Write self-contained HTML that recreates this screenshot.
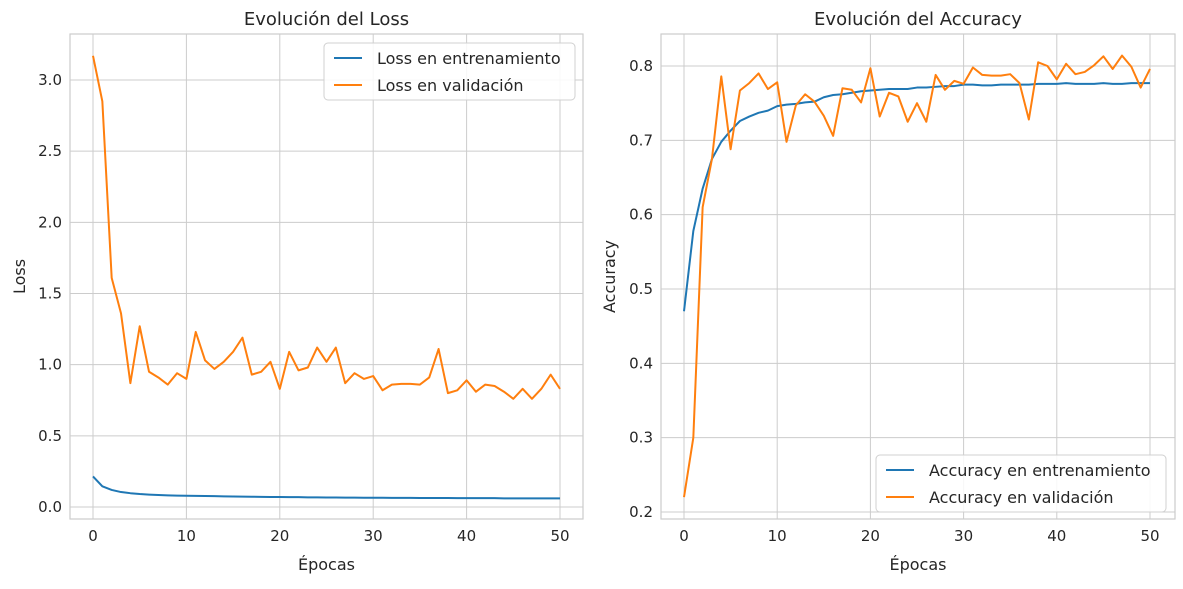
<!DOCTYPE html>
<html><head><meta charset="utf-8"><style>
body{margin:0;background:#fff;}
svg text{font-family:"DejaVu Sans","Liberation Sans",sans-serif;fill:#262626;}
</style></head><body>
<svg id="chart" width="1183" height="584" xmlns="http://www.w3.org/2000/svg"></svg>
<script>
const epochs = Array.from({length:51},(_,i)=>i);
const lossTrain = [0.215,0.145,0.12,0.105,0.097,0.091,0.087,0.084,0.082,0.080,0.079,0.078,0.077,0.076,0.075,0.074,0.073,0.072,0.071,0.070,0.070,0.069,0.069,0.068,0.068,0.067,0.067,0.066,0.066,0.065,0.065,0.065,0.064,0.064,0.064,0.063,0.063,0.063,0.063,0.062,0.062,0.062,0.062,0.062,0.061,0.061,0.061,0.061,0.061,0.061,0.061];
const lossVal = [3.17,2.85,1.61,1.36,0.87,1.27,0.95,0.91,0.86,0.94,0.90,1.23,1.03,0.97,1.02,1.09,1.19,0.93,0.95,1.02,0.83,1.09,0.96,0.98,1.12,1.02,1.12,0.87,0.94,0.90,0.92,0.82,0.86,0.865,0.865,0.86,0.91,1.11,0.80,0.82,0.89,0.81,0.86,0.85,0.81,0.76,0.83,0.76,0.83,0.93,0.83];
const accTrain = [0.47,0.578,0.635,0.675,0.698,0.713,0.726,0.732,0.737,0.740,0.746,0.748,0.749,0.751,0.752,0.758,0.761,0.762,0.764,0.766,0.767,0.768,0.769,0.769,0.769,0.771,0.771,0.772,0.773,0.773,0.775,0.775,0.774,0.774,0.775,0.775,0.775,0.775,0.776,0.776,0.776,0.777,0.776,0.776,0.776,0.777,0.776,0.776,0.777,0.777,0.777];
const accVal = [0.22,0.30,0.61,0.675,0.786,0.688,0.767,0.777,0.790,0.769,0.778,0.698,0.747,0.762,0.752,0.733,0.706,0.770,0.768,0.751,0.797,0.732,0.764,0.759,0.725,0.750,0.725,0.788,0.768,0.780,0.776,0.798,0.788,0.787,0.787,0.789,0.777,0.728,0.805,0.800,0.782,0.803,0.789,0.792,0.801,0.813,0.796,0.814,0.799,0.771,0.796];
const xTicks = [0,10,20,30,40,50];
const lossTicks = [0.0,0.5,1.0,1.5,2.0,2.5,3.0];
const accTicks = [0.2,0.3,0.4,0.5,0.6,0.7,0.8];

const NS="http://www.w3.org/2000/svg";
const svg=document.getElementById('chart');
function el(tag,attrs,parent,text){const e=document.createElementNS(NS,tag);for(const k in attrs)e.setAttribute(k,attrs[k]);if(text!==undefined)e.textContent=text;(parent||svg).appendChild(e);return e;}

function panel(cfg){
  const g=el('g',{});
  
  
  const {x0,x1,y0,y1}=cfg.box;
  const xs=v=>cfg.px0+(v-0)*(cfg.px50-cfg.px0)/50;
  const ys=v=>cfg.py0+(v-cfg.v0)*(cfg.py1-cfg.py0)/(cfg.v1-cfg.v0);
  xTicks.forEach(t=>{
    const l=el('line',{x1:xs(t),x2:xs(t),y1:y0,y2:y1,stroke:'#cccccc','stroke-width':1},g);
    
    
    const tx=el('text',{x:xs(t),y:y1+22,'text-anchor':'middle','font-size':15},g,String(t));
    
    
  });
  cfg.ticks.forEach(t=>{
    const l=el('line',{x1:x0,x2:x1,y1:ys(t),y2:ys(t),stroke:'#cccccc','stroke-width':1},g);
    
    
    const tx=el('text',{x:x0-8,y:ys(t)+5,'text-anchor':'end','font-size':15},g,t.toFixed(1));
    
    
  });
  const fr=el('rect',{x:x0,y:y0,width:x1-x0,height:y1-y0,fill:'none',stroke:'#cccccc','stroke-width':1.2},g);
  
  
  cfg.series.forEach(s=>{
    const p=el('polyline',{points:epochs.map((e,i)=>xs(e)+','+ys(s.data[i])).join(' '),fill:'none',stroke:s.color,'stroke-width':2,'stroke-linejoin':'round'},g);
    
    
  });
  const t=el('text',{x:(x0+x1)/2,y:y0-9,'text-anchor':'middle','font-size':18},g,cfg.title);
  
  
  const xl=el('text',{x:(x0+x1)/2,y:y1+51,'text-anchor':'middle','font-size':16},g,'Épocas');
  
  
  const yl=el('text',{x:0,y:0,'text-anchor':'middle','font-size':16,transform:`translate(${cfg.ylx},${(y0+y1)/2}) rotate(-90)`},g,cfg.ylabel);
  
  
  const L=cfg.legend;
  const lg=el('g',{},g);
  
  
  el('rect',{x:L.x,y:L.y,width:L.w,height:57,rx:4,fill:'#fff','fill-opacity':0.85,stroke:'#d0d0d0'},lg);
  cfg.series.forEach((s,i)=>{
    const yy=L.y+15+i*27;
    el('line',{x1:L.x+10,x2:L.x+38,y1:yy,y2:yy,stroke:s.color,'stroke-width':2},lg);
    const lt=el('text',{x:L.x+53,y:yy+6,'font-size':16},lg,s.label);
    
    
  });
}
panel({name:'loss-panel',box:{x0:70,x1:583,y0:34,y1:519},px0:93,px50:560,py0:507,py1:80,v0:0,v1:3,ticks:lossTicks,title:'Evolución del Loss',ylabel:'Loss',ylx:25,
  legend:{x:324,y:43,w:251},
  series:[{name:'loss-train-line',data:lossTrain,color:'#1f77b4',label:'Loss en entrenamiento'},{name:'loss-val-line',data:lossVal,color:'#ff7f0e',label:'Loss en validación'}]});
panel({name:'accuracy-panel',box:{x0:661,x1:1175,y0:34,y1:519},px0:684,px50:1150,py0:512,py1:66,v0:0.2,v1:0.8,ticks:accTicks,title:'Evolución del Accuracy',ylabel:'Accuracy',ylx:615,
  legend:{x:876,y:455,w:290},
  series:[{name:'accuracy-train-line',data:accTrain,color:'#1f77b4',label:'Accuracy en entrenamiento'},{name:'accuracy-val-line',data:accVal,color:'#ff7f0e',label:'Accuracy en validación'}]});
</script>
</body></html>
